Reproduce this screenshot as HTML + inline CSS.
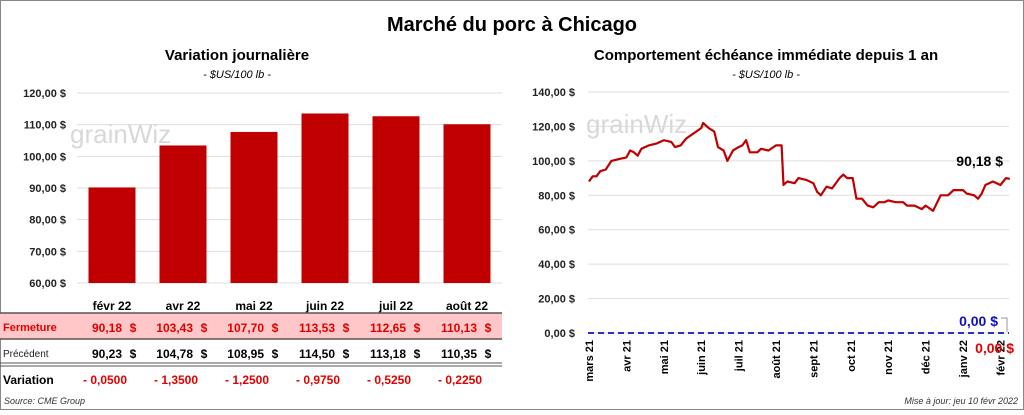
<!DOCTYPE html>
<html><head><meta charset="utf-8"><style>
body{margin:0;width:1024px;height:410px;background:#fff;font-family:"Liberation Sans",sans-serif;overflow:hidden}
svg text{font-family:"Liberation Sans",sans-serif}
</style></head><body>
<svg id="c" width="1024" height="410">
<rect x="0.5" y="0.5" width="1023" height="409" fill="#fff" stroke="#888"/>
<text x="512" y="31" text-anchor="middle" font-size="20" font-weight="bold">Marché du porc à Chicago</text>
<text x="237" y="60" text-anchor="middle" font-size="15" font-weight="bold">Variation  journalière</text>
<text x="237" y="78" text-anchor="middle" font-size="11" font-style="italic">- $US/100 lb -</text>
<text x="766" y="60" text-anchor="middle" font-size="15" font-weight="bold">Comportement  échéance immédiate depuis 1 an</text>
<text x="766" y="78" text-anchor="middle" font-size="11" font-style="italic">- $US/100 lb -</text>
<g id="left"></g>
<g id="right"></g>
<g id="table"></g>
<text x="4" y="404" font-size="9" font-style="italic" fill="#333">Source: CME Group</text>
<text x="1018" y="404" text-anchor="end" font-size="9" font-style="italic" fill="#333">Mise à jour: jeu 10 févr 2022</text>
</svg>
<script>
const NS="http://www.w3.org/2000/svg";
const barCategories=["févr 22","avr 22","mai 22","juin 22","juil 22","août 22"];
const closeValues=[90.18,103.43,107.70,113.53,112.65,110.13];
const prevValues=[90.23,104.78,108.95,114.50,113.18,110.35];
const varLabels=["- 0,0500","- 1,3500","- 1,2500","- 0,9750","- 0,5250","- 0,2250"];
const barTicks=[60,70,80,90,100,110,120];
const lineMonths=["mars 21","avr 21","mai 21","juin 21","juil 21","août 21","sept 21","oct 21","nov 21","déc 21","janv 22","févr 22"];
const lineX=[0,0.1,0.2,0.3,0.45,0.6,0.8,1.0,1.1,1.2,1.3,1.4,1.6,1.8,2.0,2.2,2.3,2.45,2.6,2.8,3.0,3.05,3.2,3.35,3.45,3.6,3.7,3.85,4.0,4.1,4.2,4.3,4.5,4.6,4.8,5.0,5.15,5.2,5.3,5.5,5.6,5.8,6.0,6.1,6.2,6.35,6.5,6.7,6.8,6.9,7.05,7.15,7.3,7.45,7.6,7.75,7.9,8.0,8.2,8.4,8.5,8.7,8.9,9.0,9.2,9.4,9.6,9.75,10.0,10.1,10.3,10.4,10.5,10.6,10.8,11.0,11.15,11.25];
const lineY=[88,91,91,94,95,100,101,102,106,105,103,107,109,110,112,111,108,109,113,116,119,122,119,117,108,106,100,106,108,109,112,105,105,107,106,109,109,86,88,87,90,89,87,82,80,85,84,90,92,90,90,78,78,74,73,76,76,77,76,76,74,74,72,74,71,80,80,83,83,81,80,78,81,86,88,86,90,89.5];
const lineTicks=[0,20,40,60,80,100,120,140];

function el(tag,attrs,parent,txt){const e=document.createElementNS(NS,tag);for(const k in attrs)e.setAttribute(k,attrs[k]);if(txt!==undefined)e.textContent=txt;parent.appendChild(e);return e;}
const fmt=v=>v.toFixed(2).replace('.',',');

const L=document.getElementById('left');
const by=v=>283-(v-60)*(190/60);
const bx=i=>112+i*71;
barTicks.forEach(t=>{
  const g=el('line',{x1:77,x2:502,y1:by(t),y2:by(t),stroke:'#ddd'},L);
  
  const tx=el('text',{x:66,y:by(t)+4,'text-anchor':'end','font-size':11,'font-weight':'bold','fill':'#222'},L,fmt(t)+' $');
  
});
const wm=el('text',{x:70,y:143,'font-size':26,fill:'#d8d8d8'},L,'grainWiz');

closeValues.forEach((v,i)=>{
  const r=el('rect',{x:bx(i)-23.5,y:by(v),width:47,height:283-by(v),fill:'#c00000'},L);
  
  const t=el('text',{x:bx(i),y:310,'text-anchor':'middle','font-size':12,'font-weight':'bold'},L,barCategories[i]);
  
});

const T=document.getElementById('table');
const bg=el('rect',{x:0,y:313,width:502,height:26,fill:'#ffc7c7'},T);

[[313,'#555',1.5],[339,'#555',1.5],[363,'#555',1],[366,'#555',1]].forEach(a=>{
  const l=el('line',{x1:0,x2:502,y1:a[0],y2:a[0],stroke:a[1],'stroke-width':a[2]},T);
  
});
const rl=(x,y,txt,c,sz,b)=>{const t=el('text',{x:x,y:y,'font-size':sz,fill:c,'font-weight':b?'bold':'normal'},T,txt);};
rl(3,331,'Fermeture','#e00000',11,true);
rl(3,357,'Précédent','#222',10,false);
rl(3,384,'Variation','#000',12,true);
closeValues.forEach((v,i)=>{
  const a=el('text',{x:bx(i)+10,y:332,'text-anchor':'end','font-size':12,'font-weight':'bold',fill:'#e00000'},T,fmt(v));
  
  const d=el('text',{x:bx(i)+21,y:332,'text-anchor':'middle','font-size':12,'font-weight':'bold',fill:'#e00000'},T,'$');
  
  const p=el('text',{x:bx(i)+10,y:358,'text-anchor':'end','font-size':12,'font-weight':'bold'},T,fmt(prevValues[i]));
  
  const pd=el('text',{x:bx(i)+21,y:358,'text-anchor':'middle','font-size':12,'font-weight':'bold'},T,'$');
  
  const vv=el('text',{x:bx(i)-29,y:384,'font-size':12,'font-weight':'bold',fill:'#e00000'},T,varLabels[i]);
  
});

const R=document.getElementById('right');
const ly=v=>333-v*(241/140);
const lx=m=>589+m*37.4;
lineTicks.forEach(t=>{
  const g=el('line',{x1:588,x2:1009,y1:ly(t),y2:ly(t),stroke:'#ddd'},R);
  
  const tx=el('text',{x:575,y:ly(t)+4,'text-anchor':'end','font-size':11,'font-weight':'bold','fill':'#222'},R,fmt(t)+' $');
  
});
const wm2=el('text',{x:586,y:133,'font-size':26,fill:'#d8d8d8'},R,'grainWiz');

lineMonths.forEach((m,i)=>{
  const t=el('text',{x:0,y:0,'font-size':11,'font-weight':'bold','text-anchor':'end',transform:`translate(${lx(i)+4},340) rotate(-90)`},R,m);
  
});
const zl=el('line',{x1:588,x2:1009,y1:ly(0),y2:ly(0),stroke:'#1010c0','stroke-width':1.8,'stroke-dasharray':'6,4'},R);

const pts=lineX.map((x,i)=>lx(x).toFixed(1)+','+ly(lineY[i]).toFixed(1)).join(' ');
const pl=el('polyline',{points:pts,fill:'none',stroke:'#c00000','stroke-width':2.2,'stroke-linejoin':'round'},R);

const last=lineY[lineY.length-1];
const lb=el('text',{x:1003,y:ly(last)-13,'text-anchor':'end','font-size':14,'font-weight':'bold'},R,'90,18 $');

const bz=el('text',{x:998,y:326,'text-anchor':'end','font-size':14,'font-weight':'bold',fill:'#1010c0'},R,'0,00 $');

const rz=el('text',{x:1014,y:353,'text-anchor':'end','font-size':14,'font-weight':'bold',fill:'#e00000'},R,'0,00 $');

const lk=el('polyline',{points:'1001,318 1007,318 1007,332',fill:'none',stroke:'#999'},R);

</script>
</body></html>
